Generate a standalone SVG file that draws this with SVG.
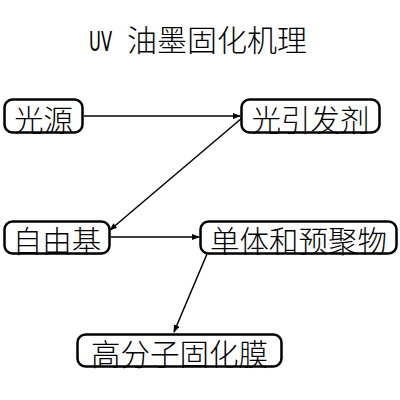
<svg xmlns="http://www.w3.org/2000/svg" width="400" height="400" viewBox="0 0 400 400">
<style>
.box{fill:#fff;stroke:#000;stroke-width:2.5}
.lbl{font-family:"Noto Sans CJK SC","Noto Sans CJK JP",sans-serif;font-size:29.5px;font-weight:300;fill:#000;text-anchor:middle;dominant-baseline:central}
.lat{font-family:"DejaVu Sans","Liberation Sans",sans-serif;font-size:27px;fill:#000}
.cjk{font-family:"Noto Sans CJK SC",sans-serif;font-size:30px;font-weight:300;fill:#000}
.edge{stroke:#000;stroke-width:1.5;fill:none;marker-end:url(#arr)}
</style>
<defs>
<marker id="arr" markerWidth="8" markerHeight="6" refX="7" refY="3" orient="auto" markerUnits="userSpaceOnUse">
<path d="M0,0 L8,3 L0,6 Z" fill="#000"/>
</marker>
</defs>
<rect width="400" height="400" fill="#fff"/>
<text class="lat" x="89" y="51" textLength="23" lengthAdjust="spacingAndGlyphs">UV</text>
<text class="cjk" x="127" y="51">油墨固化机理</text>
<g id="edges">
<line class="edge" x1="84" y1="116" x2="240" y2="116"/>
<line class="edge" x1="242" y1="118" x2="110" y2="230"/>
<line class="edge" x1="111" y1="237" x2="199" y2="237"/>
<line class="edge" x1="207" y1="254" x2="174" y2="332"/>
</g>
<g id="n1"><rect class="box" x="4.5" y="99.5" width="78" height="33" rx="8"/><text class="lbl" x="43.5" y="117.5">光源</text></g>
<g id="n2"><rect class="box" x="241.5" y="99.5" width="138" height="33" rx="8"/><text class="lbl" x="310.5" y="117.5">光引发剂</text></g>
<g id="n3"><rect class="box" x="4.5" y="221.5" width="105" height="32" rx="8"/><text class="lbl" x="57" y="239">自由基</text></g>
<g id="n4"><rect class="box" x="200.5" y="221.5" width="196" height="32" rx="8"/><text class="lbl" x="298.5" y="239">单体和预聚物</text></g>
<g id="n5"><rect class="box" x="77.5" y="334.5" width="204" height="32" rx="8"/><text class="lbl" x="179.5" y="352">高分子固化膜</text></g>
</svg>
